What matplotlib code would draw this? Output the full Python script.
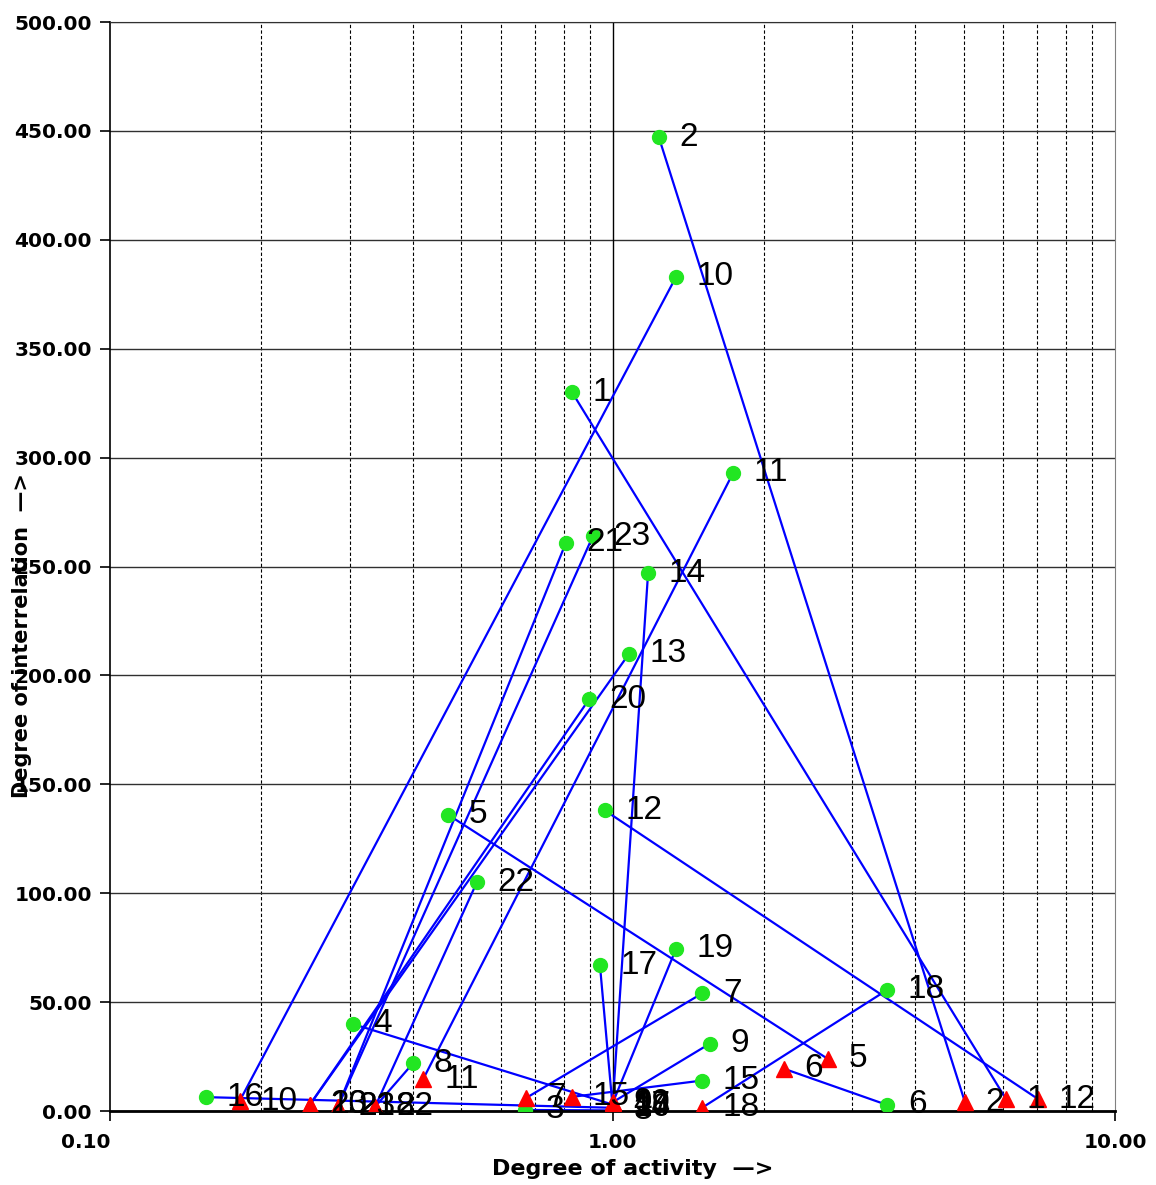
import numpy as np
import matplotlib
matplotlib.use('Agg')
import matplotlib.pyplot as plt
from matplotlib.ticker import FixedLocator, NullFormatter

plt.rcParams['font.family'] = ['Liberation Sans', 'DejaVu Sans']

# ── data ──────────────────────────────────────────────────────
ids = list(range(1, 24))

# green points (before)
green_x = [0.831, 1.237, 0.670, 0.304, 0.471, 3.52, 1.507, 0.401, 1.563, 1.338,
           1.738, 0.966, 1.079, 1.177, 1.507, 0.155, 0.944, 3.52, 1.338, 0.898,
           0.808, 0.537, 0.914]
green_y = [330.0, 447.0, 0.5, 40.0, 136.0, 2.8, 54.0, 22.0, 31.0, 383.0,
           293.0, 138.0, 210.0, 247.0, 14.0, 6.4, 67.0, 55.6, 74.5, 189.0,
           261.0, 105.0, 264.0]

# red triangles (after)
red_x = [6.07, 5.03, 1.00, 1.00, 2.68, 2.19, 0.673, 0.337, 1.00, 0.181,
         0.42, 7.03, 0.25, 1.00, 0.83, 1.00, 1.00, 1.507, 1.00, 0.25,
         0.284, 0.337, 0.284]
red_y = [5.5, 4.0, 0.3, 3.0, 24.0, 19.5, 6.0, 2.0, 4.0, 4.5,
         14.7, 5.5, 3.0, 2.0, 6.5, 1.5, 2.5, 1.5, 3.5, 3.0,
         2.0, 2.0, 2.0]

xticks = [0.1, 1.0, 10.0]
yticks = np.arange(0, 501, 50)

# ── figure ────────────────────────────────────────────────────
fig = plt.figure(figsize=(11.56, 11.85), dpi=100)
ax = fig.add_axes([0.0952, 0.0624, 0.8693, 0.9190])

for gx, gy, rx, ry in zip(green_x, green_y, red_x, red_y):
    ax.plot([gx, rx], [gy, ry], color='#0000ff', lw=1.6, zorder=2)

ax.plot(green_x, green_y, 'o', color='#22e622', ms=10, mec='#22e622', zorder=3)
ax.plot(red_x, red_y, '^', color='#ff0000', ms=11, mec='#ff0000', zorder=3)

for i, gx, gy in zip(ids, green_x, green_y):
    ax.annotate(str(i), (gx, gy), xytext=(15, 0), textcoords='offset points',
                ha='left', va='center', fontsize=24, zorder=4, clip_on=False)
for i, rx, ry in zip(ids, red_x, red_y):
    ax.annotate(str(i), (rx, ry), xytext=(15, 0), textcoords='offset points',
                ha='left', va='center', fontsize=24, zorder=4, clip_on=False)

ax.set_xscale('log')
ax.set_xlim(0.1, 10)
ax.set_ylim(0, 500)

ax.xaxis.set_major_locator(FixedLocator(xticks))
ax.set_xticklabels(['%.2f' % v for v in xticks])
minors = [m * d for d in (0.1, 1.0) for m in range(2, 10)]
ax.xaxis.set_minor_locator(FixedLocator(minors))
ax.xaxis.set_minor_formatter(NullFormatter())
ax.set_yticks(yticks)
ax.set_yticklabels(['%.2f' % v for v in yticks])

ax.grid(axis='y', which='major', color='#303030', lw=1.0, ls='-')
ax.grid(axis='x', which='minor', color='black', lw=0.8, ls=(0, (3, 2)))
ax.axvline(1.0, color='black', lw=1.0, zorder=1)
ax.set_axisbelow(True)

ax.tick_params(axis='both', which='major', direction='out', length=7,
               width=1.2, pad=6)
ax.tick_params(axis='x', which='major', pad=9)
ax.tick_params(axis='x', which='minor', length=0)
for lbl in ax.get_xticklabels() + ax.get_yticklabels():
    lbl.set_fontfamily('DejaVu Sans')
    lbl.set_fontweight('bold')
    lbl.set_fontsize(14.5)
ax.get_xticklabels()[0].set_ha('right')

ax.spines['left'].set_linewidth(1.2)
ax.spines['bottom'].set_linewidth(2.0)
ax.spines['top'].set_color('#303030')
ax.spines['right'].set_color('#808080')

ax.set_xlabel('Degree of activity  \u2014>', fontsize=16, fontweight='bold',
              family='DejaVu Sans')
ax.xaxis.set_label_coords(0.52, -0.044)
ax.set_ylabel('Degree of interrelation  \u2014>', fontsize=15, fontweight='bold',
              family='DejaVu Sans')
ax.yaxis.set_label_coords(-0.078, 0.437)

fig.savefig('out.png', dpi=100)
